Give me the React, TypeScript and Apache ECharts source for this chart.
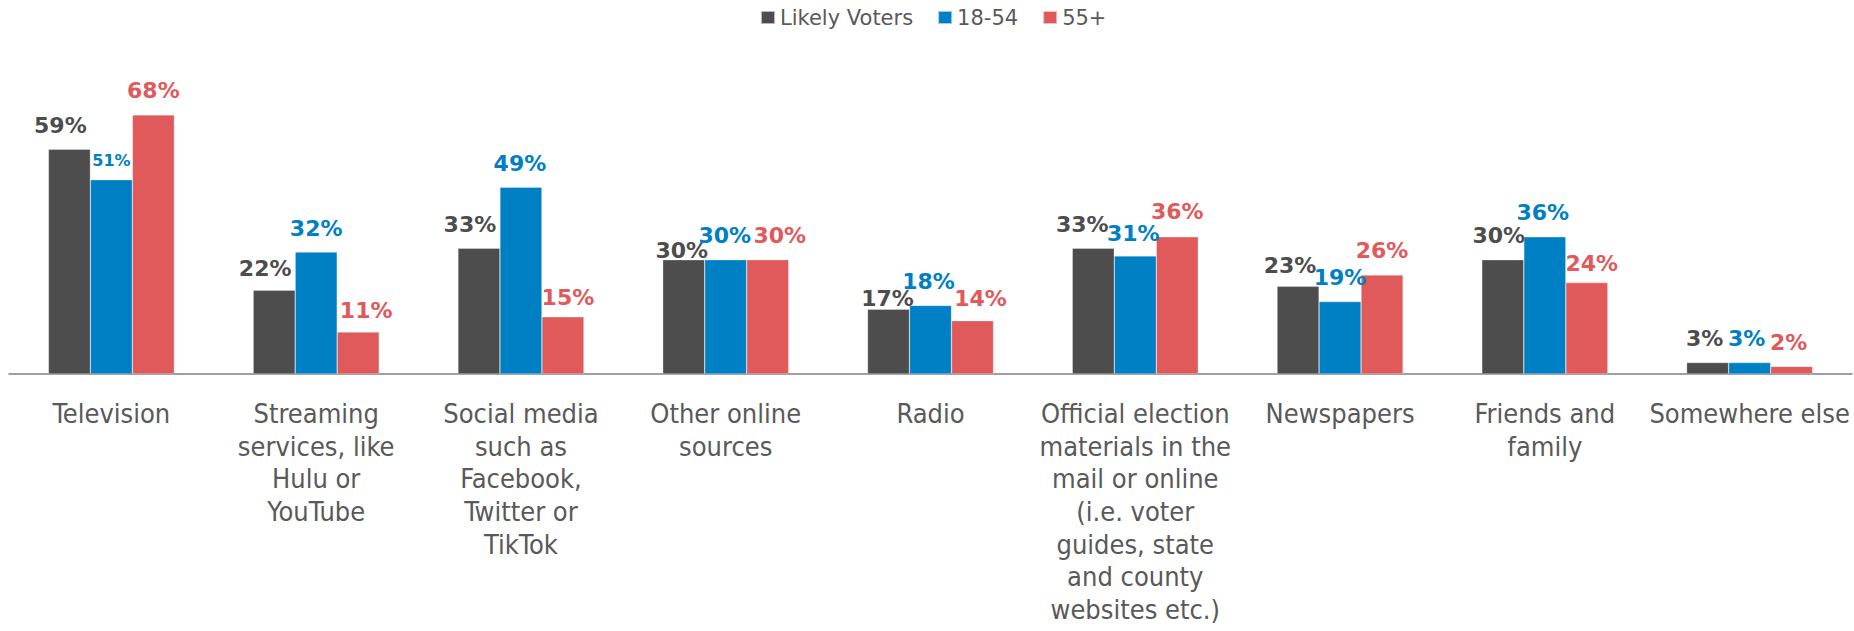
import React, { useEffect, useRef } from "react";
import * as echarts from "echarts";

const categories = [
  "Television",
  "Streaming\nservices, like\nHulu or\nYouTube",
  "Social media\nsuch as\nFacebook,\nTwitter or\nTikTok",
  "Other online\nsources",
  "Radio",
  "Official election\nmaterials in the\nmail or online\n(i.e. voter\nguides, state\nand county\nwebsites etc.)",
  "Newspapers",
  "Friends and\nfamily",
  "Somewhere else",
];

const seriesNames = ["Likely Voters", "18-54", "55+"];
const likelyVoters = [59, 22, 33, 30, 17, 33, 23, 30, 3];
const age18to54 = [51, 32, 49, 30, 18, 31, 19, 36, 3];
const age55plus = [68, 11, 15, 30, 14, 36, 26, 24, 2];

const colors = ["#4D4D4D", "#0080C4", "#E05A5C"];

// label nudges (layout only), [dx, dy] per category per series
const nudges: number[][][] = [
  [[-9, 0], [0, 2], [0, 0]],
  [[-9, 2], [0, 0], [8, 2]],
  [[-9, 0], [-1, 0], [5, 5]],
  [[-2, 15], [-1, 0], [12, 0]],
  [[-1, 13], [-2, 0], [8, 2]],
  [[-11, 0], [-2, 2], [0, -1]],
  [[-8, 3], [0, 0], [0, 0]],
  [[-4, 0], [-2, 0], [5, 5]],
  [[-3, 0], [-3, 0], [-3, 0]],
];

export default function App() {
  const ref = useRef<HTMLDivElement>(null);
  useEffect(() => {
    if (!ref.current) return;
    const chart = echarts.init(ref.current, undefined, { renderer: "svg" });
    const all = [likelyVoters, age18to54, age55plus];
    const series = all.map((vals, si) => ({
      name: seriesNames[si],
      type: "bar",
      barWidth: 42,
      barGap: "0%",
      itemStyle: { color: colors[si], borderColor: "rgba(255,255,255,0.6)", borderWidth: 0.5 },
      label: {
        show: true,
        position: "top",
        distance: 13,
        formatter: "{c}%",
        color: colors[si],
        fontFamily: "DejaVu Sans",
        fontWeight: "bold",
        fontSize: 22,
      },
      data: vals.map((v, ci) => {
        const n = nudges[ci][si];
        const lbl: any = { offset: n };
        if (ci === 0 && si === 1) lbl.fontSize = 16;
        return { value: v, label: lbl };
      }),
    }));
    chart.setOption({
      animation: false,
      color: colors,
      legend: {
        top: 2,
        left: 755,
        itemWidth: 14,
        itemHeight: 13,
        itemGap: 24,
        icon: "rect",
        textStyle: { fontFamily: "DejaVu Sans", fontSize: 21, color: "#595959" },
        data: seriesNames,
      },
      grid: { left: 9, right: 2, top: 69.2, bottom: 257, containLabel: false },
      xAxis: {
        type: "category",
        data: categories,
        axisTick: { show: false },
        axisLine: { show: true, lineStyle: { color: "#7F7F7F", width: 1.5 } },
        axisLabel: {
          interval: 0,
          margin: 23,
          color: "#595959",
          fontFamily: "'DejaVu Sans Condensed', 'DejaVu Sans'",
          fontSize: 27,
          lineHeight: 32.7,
        },
      },
      yAxis: {
        type: "value",
        min: 0,
        max: 80,
        show: false,
        splitLine: { show: false },
      },
      series,
    });
    return () => chart.dispose();
  }, []);
  return (
    <div
      ref={ref}
      style={{ position: "absolute", left: 0, top: 0, width: 1854, height: 631, background: "#fff" }}
    />
  );
}
